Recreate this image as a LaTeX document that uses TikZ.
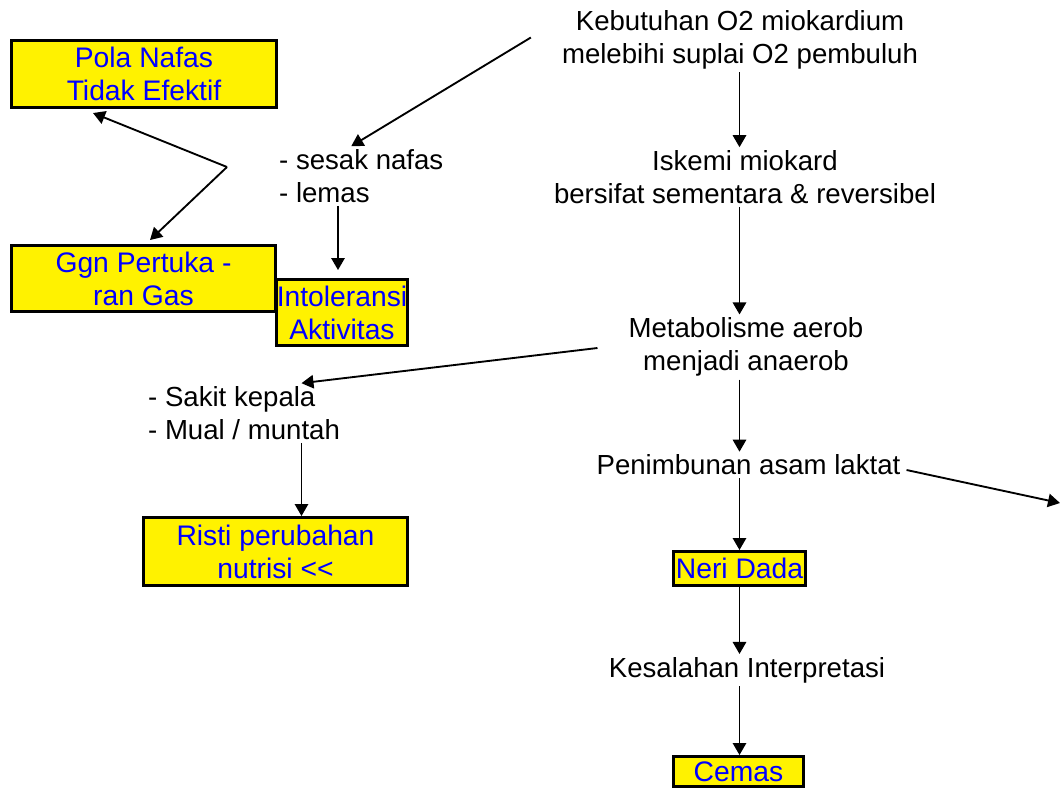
\documentclass[tikz,border=0pt]{standalone}
\usepackage{fontspec}
\setmainfont{Liberation Sans}
\usetikzlibrary{arrows.meta,calc}
\tikzset{every picture/.style={line width=0.75pt}}
\tikzset{
  dxbox/.style={draw=black, line width=2.5pt, fill=yellow, text=blue, align=center, inner sep=0pt, font=\fontsize{21.2}{24.75}\selectfont},
  ket/.style={align=center, inner sep=2pt, font=\fontsize{20.7}{24.75}\selectfont},
  ketl/.style={align=left, inner sep=2pt, font=\fontsize{20.7}{24.75}\selectfont},
  panah/.style={-{Triangle[length=9pt,width=10pt]}, line width=1.4pt},
}

\begin{document}
\begin{tikzpicture}[x=0.75pt,y=0.75pt,yscale=-1,xscale=1]
\useasboundingbox (0,0) rectangle (1061,790);

%Shape: Rectangle (diagnosa)
\node[dxbox, minimum width=198.5pt, minimum height=50pt] (pola) at (144,74) {Pola Nafas\\Tidak Efektif};
\node[dxbox, minimum width=197.7pt, minimum height=49.2pt] (ggn) at (143.5,278.5) {Ggn Pertuka -\\ran Gas};
\node[dxbox, minimum width=98pt, minimum height=49.2pt] (into) at (342,312.5) {Intoleransi\\Aktivitas};
\node[dxbox, minimum width=197.7pt, minimum height=50.7pt] (risti) at (275.5,551.5) {Risti perubahan\\nutrisi <\kern0pt<};
\node[dxbox, minimum width=98.7pt, minimum height=25.2pt] (neri) at (739.5,568.5) {Neri Dada};
\node[dxbox, minimum width=97.2pt, minimum height=22.2pt] (cemas) at (738.5,771.5) {Cemas};

% Text Node
\node[ket] (keb) at (740,39.5) {Kebutuhan O2 miokardium\\melebihi suplai O2 pembuluh};
% Text Node
\node[ket] (isk) at (745,177) {Iskemi miokard\\bersifat sementara \& reversibel};
% Text Node
\node[ket] (meta) at (746,347) {Metabolisme aerob\\menjadi anaerob};
% Text Node
\node[ket] (pen) at (748.5,465) {Penimbunan asam laktat};
% Text Node
\node[ket] (kes) at (747,670) {Kesalahan Interpretasi};
% Text Node
\node[ketl, anchor=west] (sym1) at (276,176) {- sesak nafas\\- lemas};
% Text Node
\node[ketl, anchor=west] (sym2) at (145,413) {- Sakit kepala\\- Mual / muntah};

\coordinate (fork) at (227,167);
\coordinate (i1) at ($(into.north)+(-4,-8)$);
\coordinate (r1) at ($(risti.north)+(26,0)$);
\coordinate (offr) at (1060,503);

%Straight Lines (jalur utama)
\draw[panah] (keb.south -| neri) -- (isk.north -| neri);
\draw[panah] (isk.south -| neri) -- (meta.north -| neri);
\draw[panah] (meta.south -| neri) -- (pen.north -| neri);
\draw[panah] (pen.south -| neri) -- (neri.north);
\draw[panah] (neri.south) -- (kes.north -| neri);
\draw[panah] (kes.south -| neri) -- (cemas.north -| neri);
%Straight Lines (cabang)
\draw[panah] ($(keb.west)+(-28,-2)$) -- ($(sym1.north)+(-10,0)$);
\draw[panah] (fork) -- ($(pola.south)+(-51,4)$);
\draw[panah] (fork) -- ($(ggn.north)+(6.5,-4)$);
\draw[panah] (sym1.south -| i1) -- (i1);
\draw[panah] ($(meta.west)+(-28,1)$) -- (sym2.north -| r1);
\draw[panah] (sym2.south -| r1) -- (r1);
\draw[panah] ($(pen.east)+(3,5)$) -- (offr);

\end{tikzpicture}
\end{document}
